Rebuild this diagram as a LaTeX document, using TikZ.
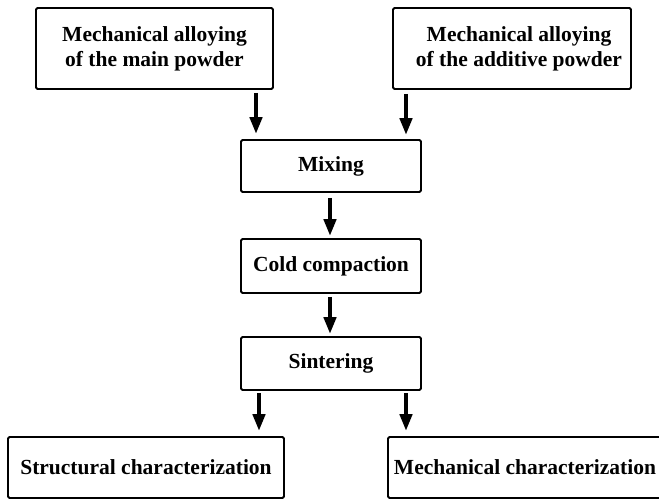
\documentclass[tikz,border=0pt]{standalone}
\usepackage{fontspec}
\setmainfont{Liberation Serif}
\usetikzlibrary{arrows.meta}
\begin{document}
\begin{tikzpicture}[x=1pt,y=-1pt,
  boxn/.style={draw=black,line width=1.8pt,rounded corners=1.5pt,inner sep=0pt,align=center,
    font=\fontsize{21.5}{25}\selectfont\bfseries},
  arr/.style={line width=4.5pt,-{Triangle[width=12pt,length=17pt]}}]
\useasboundingbox (0,0) rectangle (659,500);
\fill[white] (0,0) rectangle (659,500);
\node[boxn,minimum width=237pt,minimum height=81pt] (b1) at (154.5,48.5) {\raisebox{-3pt}{Mechanical alloying}\\\raisebox{-3pt}{of the main powder}};
\node[boxn,minimum width=238pt,minimum height=81pt] (b2) at (512,48.5) {\raisebox{-3pt}{\hspace*{14pt}Mechanical alloying}\\\raisebox{-3pt}{\hspace*{14pt}of the additive powder}};
\node[boxn,minimum width=180pt,minimum height=52pt] (mix) at (331,166) {Mixing};
\node[boxn,minimum width=180pt,minimum height=54pt] (cold) at (331,266) {Cold compaction};
\node[boxn,minimum width=180pt,minimum height=53pt] (sint) at (331,363.5) {Sintering};
\node[boxn,minimum width=276pt,minimum height=61pt] (sc) at (146,467.5) {Structural characterization};
\node[boxn,minimum width=274pt,minimum height=61pt] (mc) at (525,467.5) {Mechanical characterization};
\coordinate (x1) at (256,0);
\coordinate (x2) at (406,0);
\coordinate (x3) at (330,0);
\coordinate (x5) at (259,0);
\draw[arr,shorten <=3pt,shorten >=5pt] (b1.south -| x1) -- (mix.north -| x1);
\draw[arr,shorten <=4pt,shorten >=4pt] (b2.south -| x2) -- (mix.north -| x2);
\draw[arr,shorten <=5pt,shorten >=2pt] (mix.south -| x3) -- (cold.north -| x3);
\draw[arr,shorten <=3pt,shorten >=2pt] (cold.south -| x3) -- (sint.north -| x3);
\draw[arr,shorten <=2pt,shorten >=5pt] (sint.south -| x5) -- (sc.north -| x5);
\draw[arr,shorten <=2pt,shorten >=5pt] (sint.south -| x2) -- (mc.north -| x2);
\end{tikzpicture}
\end{document}
